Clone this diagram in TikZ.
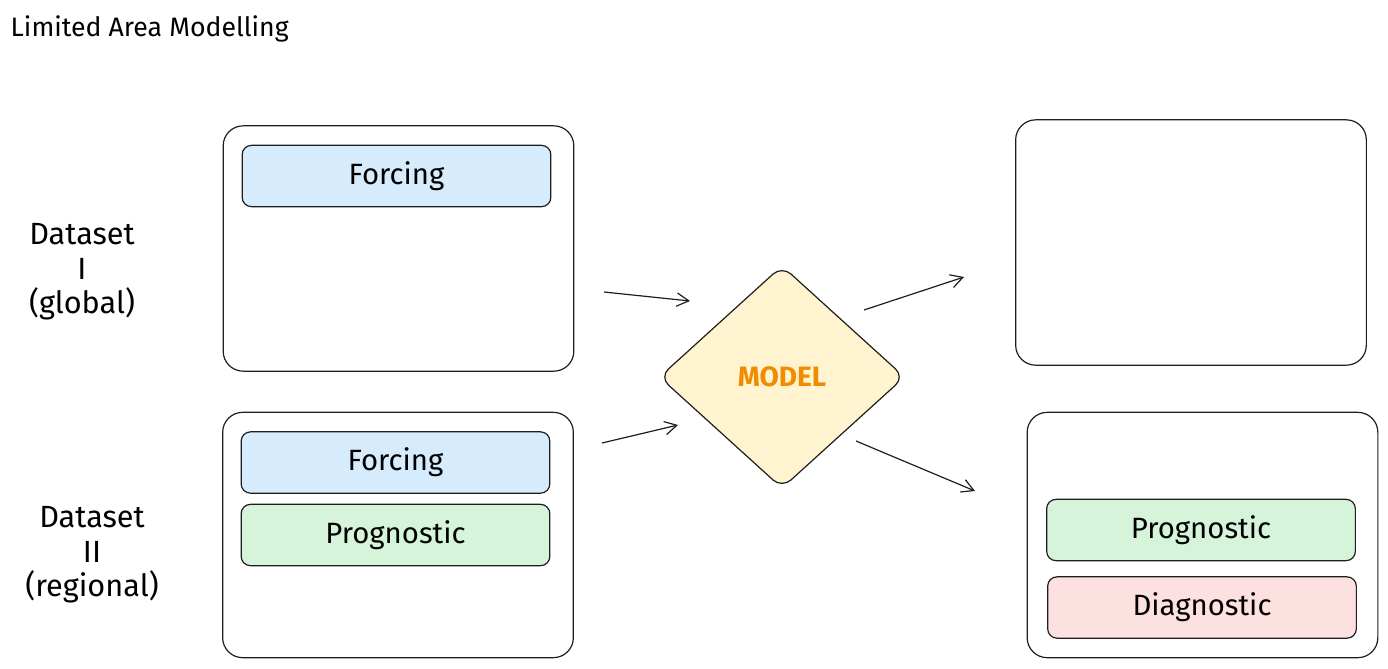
\documentclass[tikz,border=0pt]{standalone}
\usepackage{fontspec}
\setmainfont{Fira Sans}
\usepackage{tikz}
\usetikzlibrary{arrows.meta,shapes.geometric,positioning}
\definecolor{ink}{HTML}{1E1E1E}
\definecolor{forcingcolor}{HTML}{D6EBFC}
\definecolor{progcolor}{HTML}{D5F4DA}
\definecolor{diagcolor}{HTML}{FDE1E1}
\definecolor{modelcolor}{HTML}{FFF4CF}
\definecolor{modeltext}{HTML}{F08C00}
\newcommand{\boxround}{15pt}
\newcommand{\taground}{7pt}

\begin{document}
\begin{tikzpicture}[x=0.75pt,y=-0.75pt,
  frame/.style={draw=ink,line width=0.9pt,rounded corners=\boxround,minimum width=263pt,minimum height=184pt},
  tag/.style={draw=ink,line width=0.9pt,rounded corners=\taground,minimum width=231.5pt,minimum height=46pt,font=\fontsize{22}{26}\selectfont},
  caption/.style={align=center,font=\fontsize{23}{26}\selectfont},
  flow/.style={draw=ink,line width=0.9pt,-{Straight Barb[length=9pt,width=10pt]}}]
\useasboundingbox (0,0) rectangle (1388,668);
\node[anchor=west,font=\fontsize{20}{24}\selectfont] (title) at (6,29) {Limited Area Modelling};
% inputs
\node[frame] (global) at (398.5,248.5) {};
\node[tag,fill=forcingcolor] (gforcing) at (396.5,176) {Forcing};
\node[frame] (regional) at (398,535) {};
\node[tag,fill=forcingcolor] (rforcing) at (395.5,462.5) {Forcing};
\node[tag,fill=progcolor] (rprog) at (395.5,535) {Prognostic};
\node[caption] (dsone) at (82,272) {Dataset\\I\\(global)};
\node[caption] (dstwo) at (92,555) {Dataset\\II\\(regional)};
% model
\node[diamond,draw=ink,line width=0.9pt,fill=modelcolor,rounded corners=9pt,inner sep=0pt,
  minimum width=184pt,minimum height=167pt,text=modeltext,font=\bfseries\fontsize{21}{24}\selectfont] (model) at (782,377) {MODEL};
% outputs
\node[frame] (outtop) at (1191,242.5) {};
\node[frame] (outbot) at (1202.5,535) {};
\node[tag,fill=progcolor] (oprog) at (1201,530) {Prognostic};
\node[tag,fill=diagcolor] (odiag) at (1202,607.5) {Diagnostic};
% arrows
\coordinate (a1) at (604,292);
\coordinate (a2) at (690,301);
\coordinate (b1) at (602,443);
\coordinate (b2) at (678,425);
\coordinate (c1) at (864,310);
\coordinate (c2) at (964,277);
\coordinate (d1) at (856,441);
\coordinate (d2) at (975,491);
\draw[flow] (a1) -- (a2);
\draw[flow] (b1) -- (b2);
\draw[flow] (c1) -- (c2);
\draw[flow] (d1) -- (d2);
\end{tikzpicture}
\end{document}
